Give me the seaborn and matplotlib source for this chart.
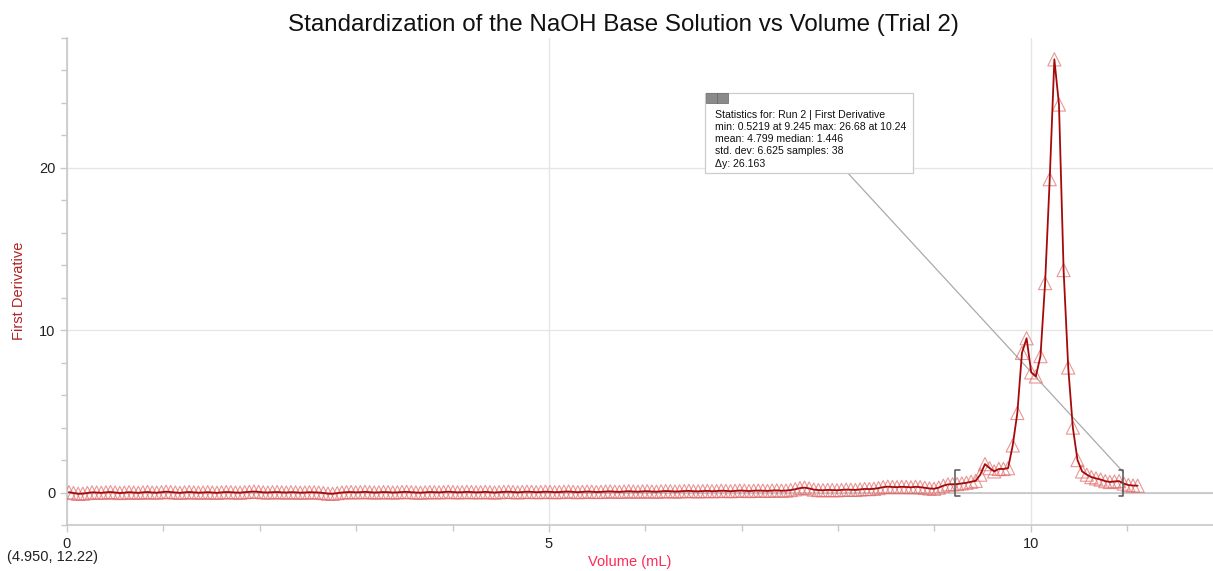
import pandas as pd
import seaborn as sns
import matplotlib.pyplot as plt
from matplotlib.patches import Rectangle
from matplotlib.ticker import MultipleLocator

# volume readings (mL) and first derivative
volume = [
    0.020, 0.068, 0.116, 0.164, 0.212, 0.260, 0.308, 0.356, 0.404, 0.452,
    0.500, 0.548, 0.596, 0.644, 0.692, 0.740, 0.788, 0.836, 0.884, 0.932,
    0.980, 1.028, 1.076, 1.124, 1.172, 1.220, 1.268, 1.316, 1.364, 1.412,
    1.460, 1.508, 1.556, 1.604, 1.652, 1.700, 1.748, 1.796, 1.844, 1.892,
    1.940, 1.988, 2.036, 2.084, 2.132, 2.180, 2.228, 2.276, 2.324, 2.372,
    2.420, 2.468, 2.516, 2.564, 2.612, 2.660, 2.708, 2.756, 2.804, 2.852,
    2.900, 2.948, 2.996, 3.044, 3.092, 3.140, 3.188, 3.236, 3.284, 3.332,
    3.380, 3.428, 3.476, 3.524, 3.572, 3.620, 3.668, 3.716, 3.764, 3.812,
    3.860, 3.908, 3.956, 4.004, 4.052, 4.100, 4.148, 4.196, 4.244, 4.292,
    4.340, 4.388, 4.436, 4.484, 4.532, 4.580, 4.628, 4.676, 4.724, 4.772,
    4.820, 4.868, 4.916, 4.964, 5.012, 5.060, 5.108, 5.156, 5.204, 5.252,
    5.300, 5.348, 5.396, 5.444, 5.492, 5.540, 5.588, 5.636, 5.684, 5.732,
    5.780, 5.828, 5.876, 5.924, 5.972, 6.020, 6.068, 6.116, 6.164, 6.212,
    6.260, 6.308, 6.356, 6.404, 6.452, 6.500, 6.548, 6.596, 6.644, 6.692,
    6.740, 6.788, 6.836, 6.884, 6.932, 6.980, 7.028, 7.076, 7.124, 7.172,
    7.220, 7.268, 7.316, 7.364, 7.412, 7.460, 7.508, 7.556, 7.604, 7.652,
    7.700, 7.748, 7.796, 7.844, 7.892, 7.940, 7.988, 8.036, 8.084, 8.132,
    8.180, 8.228, 8.276, 8.324, 8.372, 8.420, 8.468, 8.516, 8.564, 8.612,
    8.660, 8.708, 8.756, 8.804, 8.852, 8.900, 8.948, 8.996, 9.044, 9.092,
    9.140, 9.188, 9.236, 9.284, 9.332, 9.380, 9.428, 9.476, 9.524, 9.572,
    9.620, 9.668, 9.716, 9.764, 9.812, 9.860, 9.908, 9.956, 10.004, 10.052,
    10.100, 10.148, 10.196, 10.244, 10.292, 10.340, 10.388, 10.436, 10.484, 10.532,
    10.580, 10.628, 10.676, 10.724, 10.772, 10.820, 10.868, 10.916, 10.964, 11.012,
    11.060, 11.108,
]

first_derivative = [
    0.02, -0.03, -0.08, -0.07, -0.03, 0.01, 0.00, -0.02, 0.01, 0.03,
    0.00, -0.03, -0.01, 0.02, 0.00, -0.02, 0.01, 0.03, 0.00, -0.01,
    0.02, 0.05, 0.03, 0.00, -0.02, 0.01, 0.03, 0.01, -0.01, 0.00,
    0.02, 0.00, -0.02, 0.01, 0.03, 0.02, 0.00, -0.01, 0.02, 0.04,
    0.06, 0.04, 0.01, 0.00, 0.02, 0.03, 0.01, 0.00, 0.02, 0.01,
    -0.01, 0.00, 0.02, 0.01, 0.00, -0.03, -0.07, -0.08, -0.04, 0.00,
    0.02, 0.03, 0.01, 0.02, 0.04, 0.02, 0.00, 0.01, 0.03, 0.02,
    0.00, 0.01, 0.03, 0.04, 0.02, 0.00, -0.01, 0.01, 0.03, 0.02,
    0.01, 0.03, 0.05, 0.03, 0.01, 0.02, 0.04, 0.03, 0.01, 0.02,
    0.04, 0.02, 0.00, 0.02, 0.04, 0.05, 0.03, 0.01, 0.03, 0.05,
    0.04, 0.02, 0.03, 0.05, 0.04, 0.02, 0.03, 0.05, 0.06, 0.04,
    0.02, 0.04, 0.06, 0.05, 0.03, 0.04, 0.06, 0.07, 0.05, 0.04,
    0.06, 0.08, 0.06, 0.05, 0.07, 0.08, 0.06, 0.05, 0.07, 0.09,
    0.08, 0.06, 0.07, 0.09, 0.10, 0.08, 0.07, 0.09, 0.10, 0.08,
    0.09, 0.11, 0.10, 0.08, 0.10, 0.12, 0.11, 0.09, 0.11, 0.12,
    0.11, 0.10, 0.12, 0.13, 0.11, 0.12, 0.15, 0.20, 0.27, 0.30,
    0.25, 0.18, 0.15, 0.14, 0.16, 0.15, 0.14, 0.16, 0.18, 0.17,
    0.16, 0.19, 0.22, 0.21, 0.23, 0.27, 0.33, 0.36, 0.34, 0.33,
    0.35, 0.34, 0.32, 0.35, 0.33, 0.29, 0.25, 0.23, 0.30, 0.42,
    0.50, 0.51, 0.52, 0.56, 0.60, 0.66, 0.72, 1.10, 1.75, 1.50,
    1.30, 1.45, 1.45, 1.50, 2.90, 4.90, 8.60, 9.50, 7.40, 7.15,
    8.40, 12.90, 19.30, 26.68, 23.90, 13.70, 7.70, 4.00, 2.00, 1.30,
    1.10, 0.95, 0.87, 0.80, 0.70, 0.65, 0.68, 0.70, 0.55, 0.46,
    0.43, 0.42,
]

stats_lines = [
    "Statistics for: Run 2 | First Derivative",
    "min: 0.5219 at 9.245 max: 26.68 at 10.24",
    "mean: 4.799 median: 1.446",
    "std. dev: 6.625 samples: 38",
    "\u0394y: 26.163",
]
bracket_left, bracket_right = 9.21, 10.96

df = pd.DataFrame({"Volume": volume, "FirstDerivative": first_derivative})

sns.set_style("white")
plt.rcParams["font.family"] = ["Liberation Sans", "DejaVu Sans"]

fig = plt.figure(figsize=(12.13, 5.71), dpi=100)
ax = fig.add_axes([0.0552, 0.0806, 0.9448, 0.853])

# hollow triangle markers, then the dark red line on top
sns.scatterplot(data=df, x="Volume", y="FirstDerivative", ax=ax, marker="^",
                s=90, facecolor="none", edgecolor="#e06a6a", linewidth=0.8,
                alpha=0.7, zorder=3)
sns.lineplot(data=df, x="Volume", y="FirstDerivative", ax=ax, color="#a50a0a",
             linewidth=1.3, zorder=4)

ax.set_xlim(0, 11.89)
ax.set_ylim(-2, 28)
ax.xaxis.set_major_locator(MultipleLocator(5))
ax.xaxis.set_minor_locator(MultipleLocator(1))
ax.yaxis.set_major_locator(MultipleLocator(10))
ax.yaxis.set_minor_locator(MultipleLocator(2))
ax.tick_params(which="both", direction="out", color="#c8c8c8", labelsize=10.5,
               labelcolor="#222222")
ax.tick_params(which="major", length=5, width=1)
ax.tick_params(which="minor", length=4, width=1)
ax.tick_params(axis="x", which="both", bottom=True)
ax.tick_params(axis="y", which="both", left=True)
ax.grid(True, which="major", color="#e6e6e6", linewidth=1)
ax.axhline(0, color="#c4c4c4", linewidth=1.2, zorder=1)
for side in ["top", "right"]:
    ax.spines[side].set_visible(False)
for side in ["left", "bottom"]:
    ax.spines[side].set_color("#c8c8c8")
    ax.spines[side].set_linewidth(1.2)
ax.set_xlabel("")
ax.set_ylabel("")

# selection brackets
for bx, sgn in [(bracket_left, 1), (bracket_right, -1)]:
    ax.plot([bx + sgn * 0.05, bx, bx, bx + sgn * 0.05], [1.37, 1.37, -0.23, -0.23],
            color="#555555", linewidth=1.1, zorder=5)

# statistics box with leader line
ax.plot([8.10, bracket_right], [19.69, 1.25], color="#aaaaaa", linewidth=0.9, zorder=2)
ax.add_patch(Rectangle((6.62, 19.69), 2.16, 4.93, facecolor="white",
                       edgecolor="#cccccc", linewidth=0.9, zorder=6))
ax.add_patch(Rectangle((6.63, 24.0), 0.11, 0.6, facecolor="#8a8a8a",
                       edgecolor="#666666", linewidth=0.5, zorder=7))
ax.add_patch(Rectangle((6.745, 24.0), 0.11, 0.6, facecolor="#8a8a8a",
                       edgecolor="#666666", linewidth=0.5, zorder=7))
for k, line in enumerate(stats_lines):
    ax.text(6.72, 23.25 - k * 0.74 - (0.05 if k == 4 else 0), line, fontsize=7.6,
            color="#111111", va="center", ha="left", zorder=8)

fig.text(0.514, 0.956, "Standardization of the NaOH Base Solution vs Volume (Trial 2)",
         ha="center", va="center", fontsize=17.4, color="#111111")
fig.text(0.519, 0.016, "Volume (mL)", ha="center", va="center", fontsize=10.5,
         color="#ff2a55")
fig.text(0.016, 0.49, "First Derivative", ha="center", va="center", rotation=90,
         fontsize=10.5, color="#b22222")
fig.text(0.006, 0.024, "(4.950, 12.22)", ha="left", va="center", fontsize=10.5,
         color="#222222")

fig.savefig("out.png", dpi=100)
